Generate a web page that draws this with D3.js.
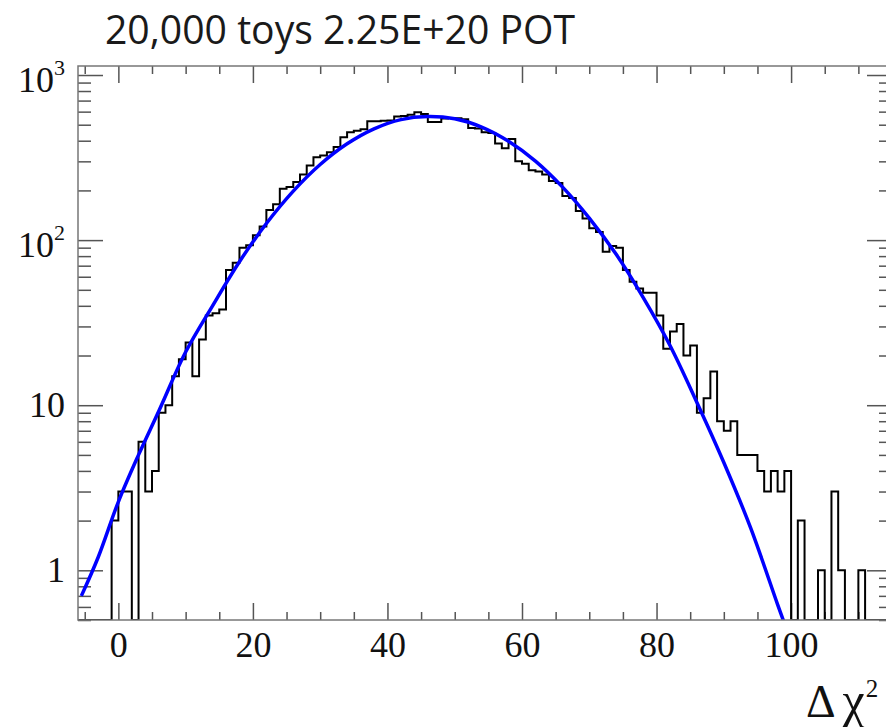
<!DOCTYPE html>
<html>
<head>
<meta charset="utf-8">
<script src="https://cdn.jsdelivr.net/npm/d3@7"></script>
<style>
  body { margin: 0; background: #fff; }
  svg { display: block; }
</style>
</head>
<body>
<svg id="chart"></svg>
<script>
// histogram: 1-unit bins starting at -6
var binStart = -6;
var counts = [
  0, 0, 0, 0, 0, 2,                                  // -6 .. -1
  3, 3, 0, 6, 3, 4, 9, 10, 15, 19,                   // 0 .. 9
  24, 15, 25, 35, 36, 38, 66, 73, 90, 93,            // 10 .. 19
  107, 121, 152, 165, 205, 210, 225, 250, 283, 318,  // 20 .. 29
  325, 340, 367, 420, 450, 460, 470, 525, 525, 528,  // 30 .. 39
  530, 560, 565, 575, 595, 580, 520, 520, 545, 550,  // 40 .. 49
  548, 540, 478, 475, 450, 445, 385, 360, 410, 300,  // 50 .. 59
  290, 265, 260, 250, 228, 222, 185, 180, 150, 135,  // 60 .. 69
  118, 112, 85, 92, 90, 66, 56, 51, 48, 48,          // 70 .. 79
  35, 22, 28, 31, 20, 23, 9, 11, 16, 8,              // 80 .. 89
  7, 8, 5, 5, 5, 4, 3, 4, 3, 4,                      // 90 .. 99
  0, 2, 0, 0, 1, 0, 3, 1, 0, 0,                      // 100 .. 109
  1, 0, 0, 0, 0                                      // 110 .. 114
];

// fitted curve
var fitX = [-5.5, -3, 0, 3, 6, 10, 14, 18, 22, 26, 30, 34, 38, 42, 46, 50, 54, 58, 62, 66, 70, 74, 78, 82, 86, 90, 94, 98, 99.5];
var fitY = [0.70, 1.2, 2.6, 5.0, 9.2, 21, 40, 74, 126, 198, 287, 383, 472, 537, 560, 543, 484, 397, 301, 210, 136, 82, 45, 23, 10.4, 4.5, 1.8, 0.62, 0.42];

var xMajor = [0, 20, 40, 60, 80, 100];
var yLabels = [
  {v: 1000, base: "10", sup: "3"},
  {v: 100, base: "10", sup: "2"},
  {v: 10, base: "10", sup: ""},
  {v: 1, base: "1", sup: ""}
];

var W = 886, H = 727;
var frame = {left: 78, right: 892, top: 66, bottom: 620};
var yMin = 0.5, yMax = 1134;

var svg = d3.select("#chart").attr("width", W).attr("height", H);
svg.append("rect").attr("width", W).attr("height", H).attr("fill", "#fff");

var x = d3.scaleLinear().domain([-6, 115]).range([frame.left, frame.right]);
var y = d3.scaleLog().domain([yMin, yMax]).range([frame.bottom, frame.top]);

svg.append("defs").append("clipPath").attr("id", "clip")
  .append("rect")
  .attr("x", frame.left).attr("y", frame.top)
  .attr("width", frame.right - frame.left)
  .attr("height", frame.bottom - frame.top);

// tick values
var xMinor = d3.range(-5, 115, 5).filter(function(d) { return xMajor.indexOf(d) < 0; });
var yMinor = [];
[0.1, 1, 10, 100].forEach(function(dec) {
  for (var k = 2; k <= 9; k++) {
    var v = k * dec;
    if (v >= yMin && v <= yMax) yMinor.push(v);
  }
});
var yMajor = yLabels.map(function(d) { return d.v; });

function styleAxis(g) {
  g.select(".domain").remove();
  g.selectAll(".tick line").attr("stroke", "#555").attr("stroke-width", 1.5);
}

// bottom axis
svg.append("g").attr("transform", "translate(0," + frame.bottom + ")")
  .call(d3.axisBottom(x).tickValues(xMinor).tickSize(-8).tickSizeOuter(0).tickFormat(""))
  .call(styleAxis);
var xAxis = svg.append("g").attr("transform", "translate(0," + frame.bottom + ")")
  .call(d3.axisBottom(x).tickValues(xMajor).tickSize(-17).tickSizeOuter(0).tickPadding(11))
  .call(styleAxis);
xAxis.selectAll(".tick text")
  .attr("font-family", "'Liberation Serif', 'Times New Roman', serif")
  .attr("font-size", 36).attr("fill", "#111");

// top axis
svg.append("g").attr("transform", "translate(0," + frame.top + ")")
  .call(d3.axisTop(x).tickValues(xMinor).tickSize(-8).tickSizeOuter(0).tickFormat(""))
  .call(styleAxis);
svg.append("g").attr("transform", "translate(0," + frame.top + ")")
  .call(d3.axisTop(x).tickValues(xMajor).tickSize(-17).tickSizeOuter(0).tickFormat(""))
  .call(styleAxis);

// left axis
svg.append("g").attr("transform", "translate(" + frame.left + ",0)")
  .call(d3.axisLeft(y).tickValues(yMinor).tickSize(-13).tickSizeOuter(0).tickFormat(""))
  .call(styleAxis);
svg.append("g").attr("transform", "translate(" + frame.left + ",0)")
  .call(d3.axisLeft(y).tickValues(yMajor).tickSize(-25).tickSizeOuter(0).tickFormat(""))
  .call(styleAxis);

// right axis
svg.append("g").attr("transform", "translate(" + frame.right + ",0)")
  .call(d3.axisRight(y).tickValues(yMinor).tickSize(-13).tickSizeOuter(0).tickFormat(""))
  .call(styleAxis);
svg.append("g").attr("transform", "translate(" + frame.right + ",0)")
  .call(d3.axisRight(y).tickValues(yMajor).tickSize(-25).tickSizeOuter(0).tickFormat(""))
  .call(styleAxis);

// y labels with superscripts
var ylab = svg.append("g")
  .attr("font-family", "'Liberation Serif', 'Times New Roman', serif")
  .attr("fill", "#111");
yLabels.forEach(function(d) {
  var t = ylab.append("text")
    .attr("x", 65)
    .attr("y", y(d.v) + (d.sup ? 17 : 12))
    .attr("text-anchor", "end")
    .attr("font-size", 36)
    .text(d.base);
  if (d.sup) {
    t.append("tspan").attr("dy", -17).attr("font-size", 22).text(d.sup);
  }
});

// histogram
var plot = svg.append("g").attr("clip-path", "url(#clip)");
var histPts = counts.map(function(c, i) { return {x: binStart + i, v: c}; });
histPts.push({x: binStart + counts.length, v: counts[counts.length - 1]});
var histLine = d3.line()
  .x(function(d) { return x(d.x); })
  .y(function(d) { return d.v > 0 ? y(d.v) : frame.bottom; })
  .curve(d3.curveStepAfter);
plot.append("path")
  .datum(histPts)
  .attr("d", histLine)
  .attr("fill", "none")
  .attr("stroke", "#000")
  .attr("stroke-width", 2);

// fit
var fitPts = fitX.map(function(v, i) { return [v, fitY[i]]; });
plot.append("path")
  .datum(fitPts)
  .attr("d", d3.line()
    .x(function(d) { return x(d[0]); })
    .y(function(d) { return y(d[1]); })
    .curve(d3.curveCatmullRom))
  .attr("fill", "none")
  .attr("stroke", "#0000ff")
  .attr("stroke-width", 3.5);

// frame
svg.append("rect")
  .attr("x", frame.left).attr("y", frame.top)
  .attr("width", frame.right - frame.left)
  .attr("height", frame.bottom - frame.top)
  .attr("fill", "none")
  .attr("stroke", "#777")
  .attr("stroke-width", 1.5);

// title
svg.append("text")
  .attr("x", 105).attr("y", 44)
  .attr("font-family", "'Open Sans', 'Noto Sans', sans-serif")
  .attr("font-size", 40)
  .attr("fill", "#1a1a1a")
  .attr("textLength", 470)
  .attr("lengthAdjust", "spacingAndGlyphs")
  .text("20,000 toys 2.25E+20 POT");

// x title (kept just inside the right edge)
var xt = svg.append("text")
  .attr("x", 806).attr("y", 717)
  .attr("font-family", "'Liberation Serif', 'Times New Roman', serif")
  .attr("font-size", 46)
  .attr("fill", "#111")
  .text("Δ");
xt.append("tspan").attr("dx", 7).attr("font-size", 50).text("χ");
xt.append("tspan").attr("dx", 1).attr("dy", -20).attr("font-size", 25).text("2");
</script>
</body>
</html>
